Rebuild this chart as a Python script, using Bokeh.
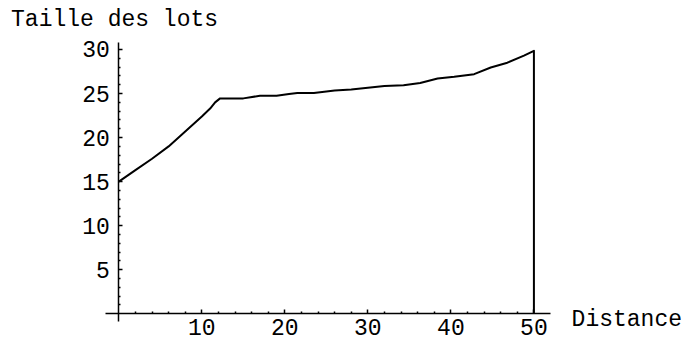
from bokeh.plotting import figure
from bokeh.models import Range1d, FixedTicker, Label
from bokeh.embed import file_html
from bokeh.resources import INLINE

# Data
distance = [0, 2, 4, 6, 8, 10, 11, 11.6, 12.2, 15, 17, 19, 20.5, 21.5, 23.5, 26, 28,
            30, 32, 34.3, 36.3, 38.4, 40.4, 42.8, 44.8, 46.8, 48.8, 50, 50]
taille = [15.0, 16.3, 17.6, 19.0, 20.7, 22.4, 23.3, 24.0, 24.45, 24.45, 24.75, 24.75,
          24.95, 25.05, 25.05, 25.35, 25.45, 25.65, 25.85, 25.95, 26.2, 26.7, 26.9,
          27.2, 27.95, 28.5, 29.3, 29.85, 0]

x_major = [10, 20, 30, 40, 50]
x_minor = [2, 4, 6, 8, 12, 14, 16, 18, 22, 24, 26, 28, 32, 34, 36, 38, 42, 44, 46, 48]
y_major = [5, 10, 15, 20, 25, 30]
y_minor = [v for v in range(1, 31) if v % 5 != 0]

x_title = "Distance"
y_title = "Taille des lots"

FONT = "Liberation Mono"
FS = "23px"

p = figure(width=688, height=347, output_backend="svg", toolbar_location=None,
           x_range=Range1d(-14.25, 68.62), y_range=Range1d(-3.825, 35.56),
           min_border_left=0, min_border_right=0, min_border_top=0,
           min_border_bottom=0)
p.outline_line_color = None
p.xgrid.visible = False
p.ygrid.visible = False
p.background_fill_color = "white"
p.border_fill_color = "white"

for ax in (p.xaxis[0], p.yaxis[0]):
    ax.fixed_location = 0
    ax.axis_line_color = "black"
    ax.axis_line_width = 1.5
    ax.major_tick_line_color = "black"
    ax.major_tick_line_width = 1.5
    ax.major_tick_in = 4
    ax.major_tick_out = 0
    ax.minor_tick_line_color = "black"
    ax.minor_tick_line_width = 1.5
    ax.minor_tick_in = 2
    ax.minor_tick_out = 0
    ax.major_label_text_font = FONT
    ax.major_label_text_font_size = FS
    ax.major_label_text_color = "black"

p.xaxis[0].major_label_standoff = 5
p.yaxis[0].major_label_standoff = 9
p.xaxis[0].bounds = (-1.59, 51.97)
p.yaxis[0].bounds = (-0.84, 30.83)
p.xaxis[0].ticker = FixedTicker(ticks=x_major, minor_ticks=x_minor)
p.yaxis[0].ticker = FixedTicker(ticks=y_major, minor_ticks=y_minor)

p.line(distance, taille, line_color="black", line_width=2, line_join="round")

p.add_layout(Label(x=-12.98, y=33.3, text=y_title, text_font=FONT, text_font_size=FS,
                   text_align="left", text_baseline="alphabetic", text_color="black"))
p.add_layout(Label(x=54.54, y=-0.69, text=x_title, text_font=FONT, text_font_size=FS,
                   text_align="left", text_baseline="alphabetic", text_color="black"))

open("out.html", "w").write(file_html(p, INLINE))
